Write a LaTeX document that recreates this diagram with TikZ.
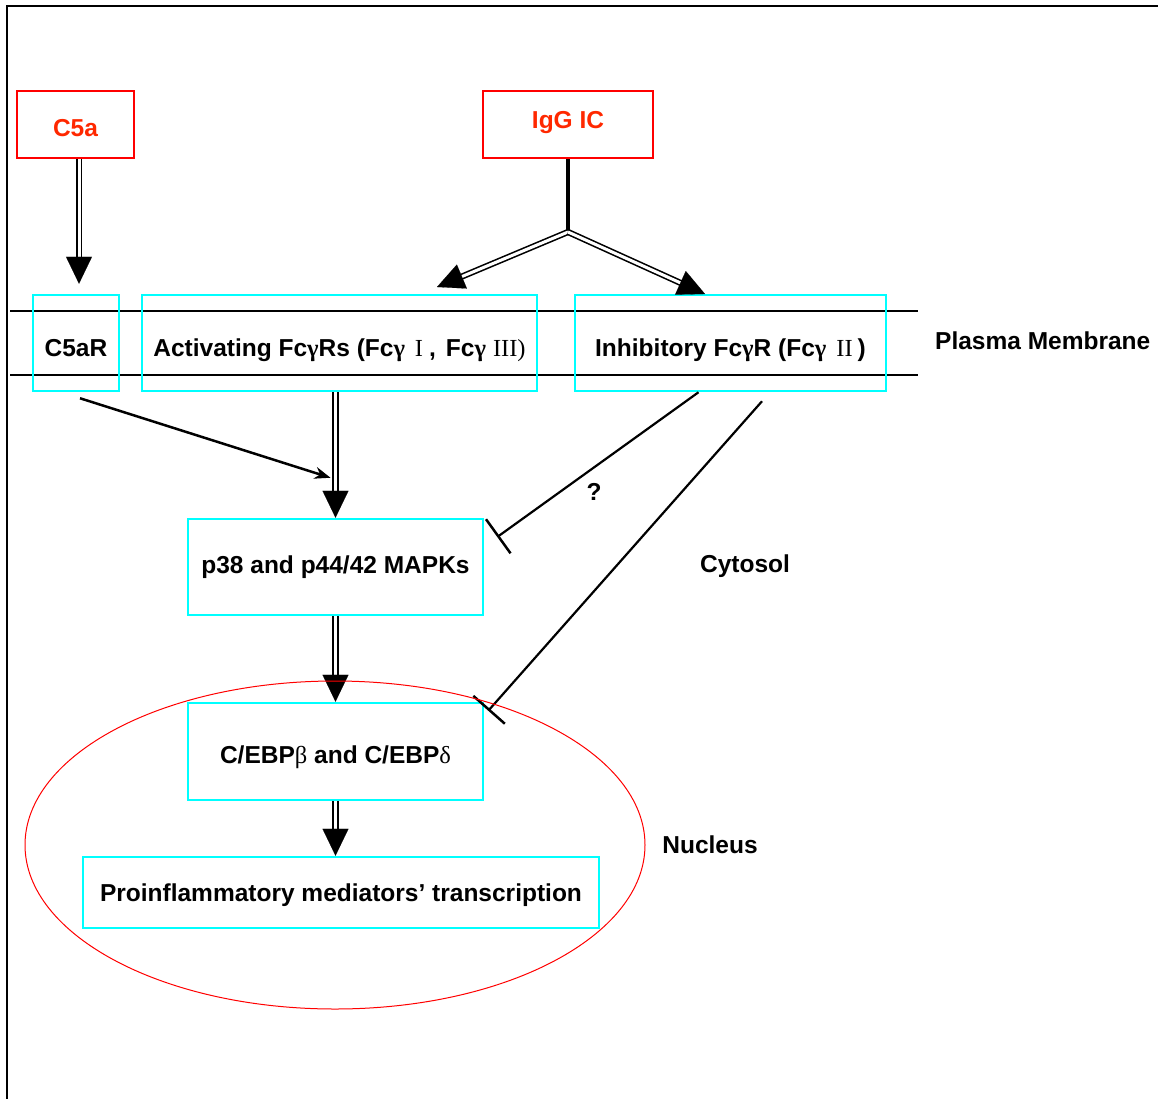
\documentclass[tikz,border=0pt]{standalone}
\usepackage{fontspec}
\setmainfont{Liberation Sans}
\newfontfamily\serifg{Liberation Serif}
\usetikzlibrary{arrows.meta,calc}
\definecolor{cyanc}{RGB}{0,255,255}
\definecolor{redbox}{RGB}{255,0,0}
\definecolor{redtxt}{RGB}{255,40,0}
\newcommand\dblarr[2]{%
  \draw[dblshaft] (#1) -- ($(#2)!20pt!(#1)$);
  \draw[bigtip] ($(#2)!27pt!(#1)$) -- (#2);}
\begin{document}
\begin{tikzpicture}[x=1pt,y=-1pt,
  txt/.style={font=\fontsize{24.5}{28}\selectfont\bfseries, inner sep=0pt},
  cbox/.style={txt, draw=cyanc, line width=2.5pt, text depth=0pt},
  rbox/.style={txt, draw=redbox, line width=2.5pt, text=redtxt, text depth=0pt},
  dblshaft/.style={double, double distance=3pt, line width=1.6pt, draw=black},
  bigtip/.style={-{Triangle[length=27pt,width=26pt]}, line width=0.1pt},
  membrane/.style={line width=2pt},
  inhib/.style={line width=2.2pt, -{Bar[width=42pt,line width=2.5pt]}}]
\useasboundingbox (0,0) rectangle (1158,1099);
% frame
\draw[line width=2pt] (1158,6) -- (7,6) -- (7,1099);
% membrane
\draw[membrane] (10,311) -- (918,311);
\draw[membrane] (10,375) -- (918,375);
% nodes
\node[rbox, text height=24.6pt, minimum width=117pt, minimum height=67pt] (c5a) at (75.5,124.5) {C5a};
\node[rbox, text height=8.6pt, minimum width=170pt, minimum height=67pt] (igg) at (568,124.5) {IgG IC};
\node[cbox, text height=27.6pt, minimum width=86pt, minimum height=96pt] (c5ar) at (76,343) {C5aR};
\node[cbox, text height=27.6pt, minimum width=395pt, minimum height=96pt] (act) at (339.5,343)
  {Activating Fc{\serifg γ}Rs (Fc{\serifg γ}\hspace{10pt}{\serifg\mdseries I}\hspace{6pt},\hspace{10pt}Fc{\serifg γ}\hspace{7pt}{\serifg\mdseries III)}};
\node[cbox, text height=27.6pt, minimum width=311pt, minimum height=96pt] (inh) at (730.5,343)
  {Inhibitory Fc{\serifg γ}R (Fc{\serifg γ}\hspace{10pt}{\serifg\mdseries II}\hspace{5pt})};
\node[cbox, text height=13.6pt, minimum width=295pt, minimum height=96pt] (p38) at (335.5,567) {p38 and p44/42 MAPKs};
\node[cbox, text height=24.6pt, minimum width=295pt, minimum height=97pt] (cebp) at (335.5,751.5)
  {C/EBP{\serifg\mdseries β} and C/EBP{\serifg\mdseries δ}};
\node[cbox, text height=18.6pt, minimum width=516pt, minimum height=71pt] (pro) at (341,892.5)
  {Proinflammatory mediators’ transcription};
% labels
\node[txt, anchor=west] (pm) at (935,341) {Plasma Membrane};
\node[txt] (cyt) at (745,566) {Cytosol};
\node[txt] (nuc) at (710,845) {Nucleus};
\node[txt] (q) at (594,492) {?};
% coordinates
\coordinate (a1s) at ($(c5a.south)+(3.5,0)$);
\coordinate (a1e) at ($(a1s |- c5ar.north)+(0,-10)$);
\coordinate (fork) at (568,232);
\coordinate (ltip) at (437,287);
\coordinate (rtip) at (705,294);
\coordinate (s2) at (act.south -| p38.north);
\coordinate (s5) at ($(c5ar.south)+(4,6)$);
\coordinate (e5) at ($(p38.north)+(-5,-40)$);
\coordinate (i1s) at ($(inh.south)+(-32,0)$);
\coordinate (i1e) at ($(p38.east)+(13,-30)$);
\coordinate (i2s) at ($(inh.south)+(31.5,9)$);
\coordinate (i2e) at ($(cebp.north east)+(4,9)$);
\coordinate (e6) at (cebp.south |- pro.north);
% connectors
\dblarr{a1s}{a1e}
\draw[line width=4pt] (igg.south) -- (fork);
\dblarr{fork}{ltip}
\dblarr{fork}{rtip}
\dblarr{s2}{p38.north}
\dblarr{p38.south}{cebp.north}
\dblarr{cebp.south}{e6}
\draw[line width=2.5pt, -{Stealth[length=16pt,width=12pt]}] (s5) -- (e5);
\draw[inhib] (i1s) -- (i1e);
\draw[inhib] (i2s) -- (i2e);
% nucleus
\draw[redbox, line width=1pt] (335,845) ellipse [x radius=310pt, y radius=164pt];
\end{tikzpicture}
\end{document}
